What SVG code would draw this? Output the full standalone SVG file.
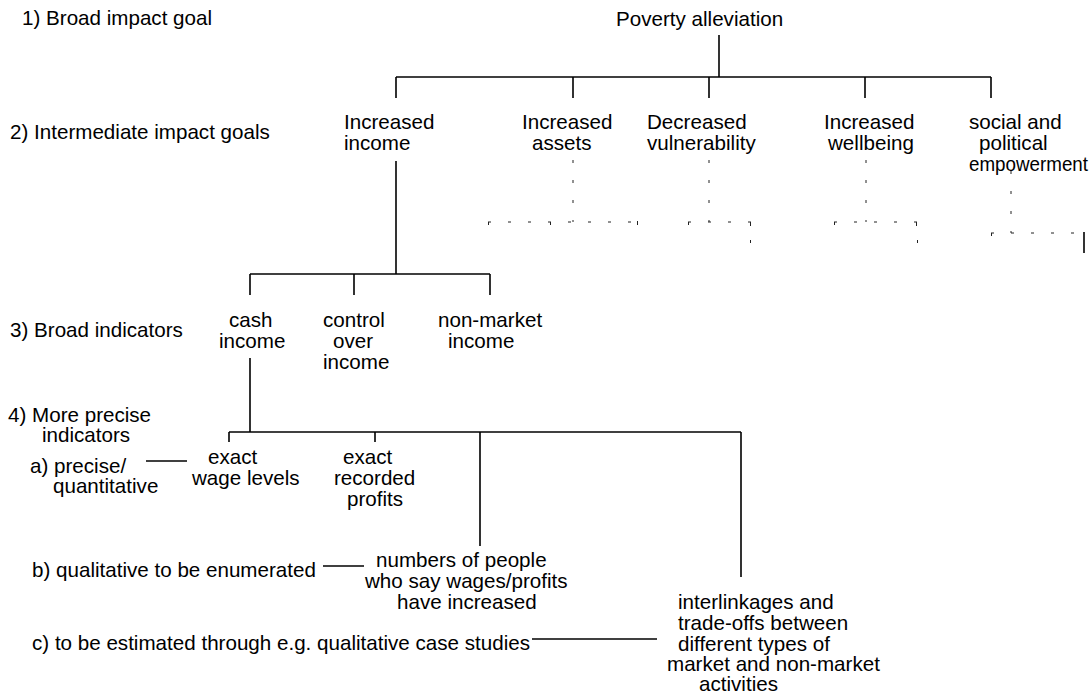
<svg xmlns="http://www.w3.org/2000/svg" width="1092" height="693" viewBox="0 0 1092 693">
<style>
text{font-family:"Liberation Sans",Arial,sans-serif;font-size:20.6px;fill:#000}
.c line,.c path{stroke:#000;stroke-width:1.6;fill:none}
.c .d{stroke:#222;stroke-width:1;stroke-dasharray:3 17}
.c .t{stroke:#222;stroke-width:1}
</style>
<rect width="1092" height="693" fill="#fff"/>
<g id="levels">
<text x="22" y="25">1) Broad impact goal</text>
<text x="10" y="139">2) Intermediate impact goals</text>
<text x="10" y="337">3) Broad indicators</text>
<text x="8" y="422">4) More precise</text>
<text x="42" y="442">indicators</text>
<text x="30" y="473">a) precise/</text>
<text x="53" y="493">quantitative</text>
<text x="32" y="577">b) qualitative to be enumerated</text>
<text x="32" y="650">c) to be estimated through e.g. qualitative case studies</text>
</g>
<g id="poverty"><text x="616" y="26">Poverty alleviation</text></g>
<g id="income"><text x="344" y="129">Increased</text><text x="344" y="150">income</text></g>
<g id="assets"><text x="522" y="129">Increased</text><text x="532" y="150">assets</text></g>
<g id="vulnerability"><text x="647" y="129">Decreased</text><text x="647" y="150">vulnerability</text></g>
<g id="wellbeing"><text x="824" y="129">Increased</text><text x="828" y="150">wellbeing</text></g>
<g id="empowerment"><text x="969" y="129">social and</text><text x="979" y="150">political</text><text x="969" y="171" textLength="119" lengthAdjust="spacingAndGlyphs">empowerment</text></g>
<g id="cash"><text x="229" y="327">cash</text><text x="219" y="348">income</text></g>
<g id="control"><text x="323" y="327">control</text><text x="333" y="348">over</text><text x="323" y="369">income</text></g>
<g id="nonmarket"><text x="438" y="327">non-market</text><text x="448" y="348">income</text></g>
<g id="wage"><text x="208" y="464">exact</text><text x="192" y="485">wage levels</text></g>
<g id="profits"><text x="343" y="464">exact</text><text x="334" y="485">recorded</text><text x="347" y="506">profits</text></g>
<g id="numbers"><text x="376" y="567">numbers of people</text><text x="365" y="588">who say wages/profits</text><text x="397" y="609">have increased</text></g>
<g id="interlinkages"><text x="678" y="609">interlinkages and</text><text x="678" y="630">trade-offs between</text><text x="678" y="651">different types of</text><text x="667" y="671">market and non-market</text><text x="699" y="691">activities</text></g>
<g id="connectors" class="c">
<line x1="719" y1="35" x2="719" y2="77"/>
<line x1="396" y1="77" x2="991" y2="77"/>
<path d="M396,77V98M573,77V98M709,77V98M865,77V98M991,77V98"/>
<line x1="396" y1="161" x2="396" y2="274"/>
<line x1="250" y1="274" x2="490" y2="274"/>
<path d="M250,274V295M354,274V295M490,274V295"/>
<line x1="250" y1="358" x2="250" y2="432"/>
<line x1="229" y1="432" x2="741" y2="432"/>
<path d="M229,432V442M375,432V442M480,432V546M741,432V577"/>
<line x1="146" y1="461" x2="187" y2="461"/>
<line x1="323" y1="566" x2="364" y2="566"/>
<line x1="532" y1="639" x2="657" y2="639"/>
<line class="d" x1="573" y1="160" x2="573" y2="222"/>
<line class="d" x1="488" y1="222" x2="640" y2="222"/>
<path class="t" d="M488.5,222V225M550.5,222V225M637.5,221V225"/>
<line class="d" x1="709" y1="160" x2="709" y2="222"/>
<line class="d" x1="688" y1="222" x2="752" y2="222"/>
<path class="t" d="M688.5,222V225M750.5,222V226M750.5,240V243"/>
<line class="d" x1="866" y1="160" x2="866" y2="222"/>
<line class="d" x1="834" y1="222" x2="918" y2="222"/>
<path class="t" d="M834.5,222V225M916.5,222V226M917.5,240V243"/>
<line class="d" x1="1011" y1="171" x2="1011" y2="233"/>
<line class="d" x1="991" y1="233" x2="1075" y2="233"/>
<path class="t" d="M991.5,233V236"/>
<line x1="1084" y1="232" x2="1084" y2="253"/>
</g>
</svg>
